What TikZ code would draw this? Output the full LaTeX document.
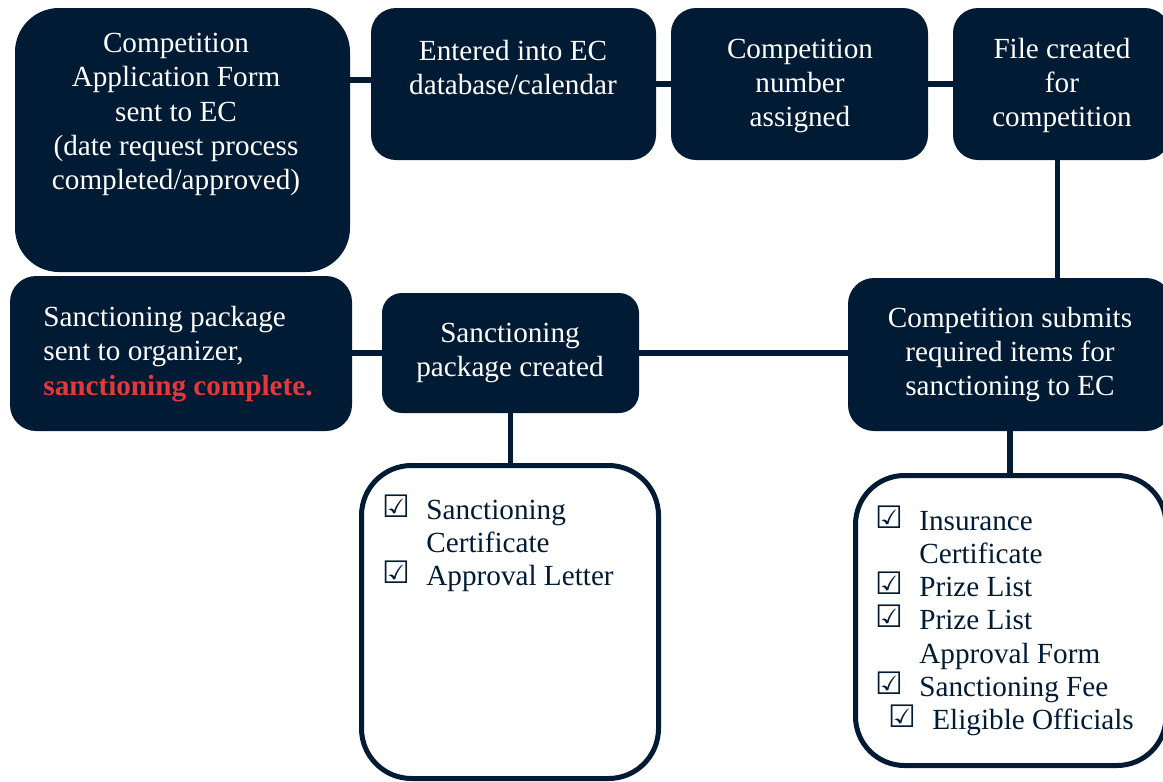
\documentclass[tikz,border=0pt]{standalone}
\usepackage{fontspec}
\setmainfont{Liberation Serif}
\newfontfamily\symfont{DejaVu Sans}

\definecolor{ecnavy}{HTML}{011B35}
\definecolor{ecred}{HTML}{E6373C}
\newcommand{\tick}{\raisebox{1pt}{\symfont\fontsize{15.5}{15.5}\selectfont\bfseries ☑}}
\newcommand{\checkitem}[1]{\makebox[22pt][l]{\tick}#1}

\tikzset{
	darkbox/.style={fill=ecnavy, rounded corners=#1, inner sep=0pt},
	listbox/.style={draw=ecnavy, line width=2.5pt, fill=white, rounded corners=#1, inner sep=0pt},
	boxtext/.style={text=white, align=center, inner sep=0pt, font=\fontsize{14.6}{17.2}\selectfont},
	listtext/.style={text=ecnavy, align=left, inner sep=0pt, font=\fontsize{14.6}{16.65}\selectfont},
	link/.style={draw=ecnavy, line width=2.7pt}
}

\begin{document}
\begin{tikzpicture}[x=0.5pt,y=-0.5pt]

\useasboundingbox (0,0) rectangle (1163,782);
\clip (0,0) rectangle (1163,782);

% top row
\node[darkbox=22pt, minimum width=167.5pt, minimum height=132pt] (A) at (182.5,140) {};
\node[darkbox=12.5pt, minimum width=142.5pt, minimum height=76pt] (B) at (513.5,84) {};
\node[darkbox=12.5pt, minimum width=128.5pt, minimum height=76pt] (C) at (799.5,84) {};
\node[darkbox=12.5pt, minimum width=108.5pt, minimum height=76pt] (D) at (1061.5,84) {};

% middle row
\node[darkbox=13pt, minimum width=171pt, minimum height=77.5pt] (E) at (181,353.5) {};
\node[darkbox=10pt, minimum width=128.5pt, minimum height=60pt] (F) at (510.5,353) {};
\node[darkbox=13pt, minimum width=162pt, minimum height=76.5pt] (G) at (1010,354.5) {};

% check lists
\node[listbox=25pt, minimum width=148.5pt, minimum height=156.5pt] (H) at (510,622) {};
\node[listbox=24.5pt, minimum width=155.25pt, minimum height=145pt] (I) at (1010.75,620.5) {};

\node[boxtext] (Atext) at (176,114.5) {Competition\\Application Form\\sent to EC\\(date request process\\completed/approved)};
\node[boxtext] (Btext) at (513,67.5) {Entered into EC\\database/calendar};
\node[boxtext] (Ctext) at (800,86) {Competition\\number\\assigned};
\node[boxtext] (Dtext) at (1062,85.5) {File created\\for\\competition};
\node[boxtext, align=left, anchor=west] (Etext) at (43,354) {Sanctioning package\\sent to organizer,\\\textcolor{ecred}{\textbf{sanctioning complete.}}};
\node[boxtext] (Ftext) at (510,353) {Sanctioning\\package created};
\node[boxtext] (Gtext) at (1010,354.5) {Competition submits\\required items for\\sanctioning to EC};

\node[listtext, anchor=north west] (Hlist) at (382,494) {\checkitem{Sanctioning}\\\hspace*{22pt}Certificate\\\checkitem{Approval Letter}};
\node[listtext, anchor=north west] (Ilist) at (875,505) {\checkitem{Insurance}\\\hspace*{22pt}Certificate\\\checkitem{Prize List}\\\checkitem{Prize List}\\\hspace*{22pt}Approval Form\\\checkitem{Sanctioning Fee}\\\hspace*{6.5pt}\checkitem{Eligible Officials}};

% links
\draw[link] ([yshift=2pt]B.west -| A.east) -- ([yshift=2pt]B.west);
\draw[link] (B.east) -- (C.west);
\draw[link] (C.east) -- (D.west);
\draw[link] ([xshift=-2pt]D.south) -- ([xshift=-2pt]D.south |- G.north);
\draw[link] (F.east) -- (F.east -| G.west);
\draw[link] (E.east |- F.west) -- (F.west);
\draw[link] (F.south) -- (F.south |- H.north);
\draw[link] (G.south) -- (G.south |- I.north);

\end{tikzpicture}
\end{document}
